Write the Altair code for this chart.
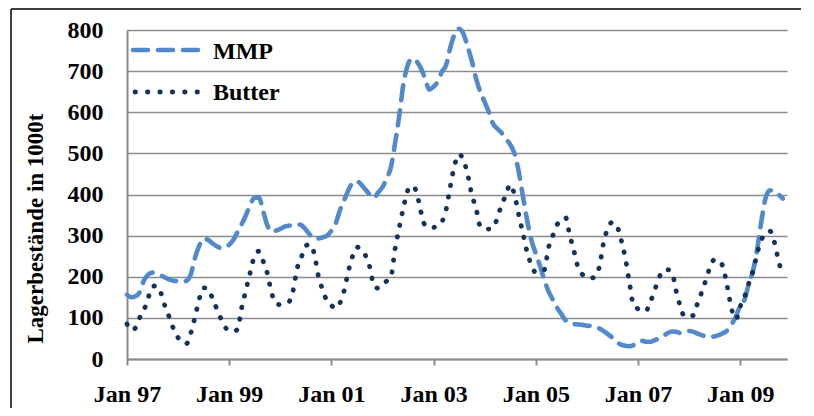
import altair as alt
import pandas as pd

# Monthly stocks (1000 t), Jan 1997 - Nov 2009
mmp = [156, 150, 152, 162, 190, 205, 210, 207, 203, 198, 193, 190,
       189, 188, 190, 205, 245, 275, 292, 290, 282, 275, 270, 272,
       278, 290, 308, 328, 350, 375, 392, 393, 360, 325, 310, 312,
       316, 322, 324, 326, 328, 325, 315, 302, 292, 293, 296, 300,
       312, 330, 360, 385, 410, 428, 432, 425, 412, 400, 392, 405,
       418, 440, 465, 525, 592, 672, 715, 730, 724, 708, 682, 655,
       662, 675, 698, 715, 758, 790, 803, 792, 760, 725, 682, 650,
       625, 600, 572, 560, 550, 535, 522, 500, 455, 395, 335, 288,
       256, 225, 194, 165, 145, 125, 110, 94, 88, 85, 84, 83,
       81, 80, 77, 74, 68, 60, 52, 42, 35, 32, 31, 34,
       42, 44, 42, 42, 46, 50, 56, 63, 67, 66, 63, 66,
       68, 66, 62, 58, 55, 54, 55, 58, 63, 70, 85, 103,
       130, 145, 180, 213, 265, 335, 392, 410, 408, 400, 390]

butter = [85, 70, 75, 100, 118, 148, 176, 178, 160, 127, 100, 72,
          52, 40, 37, 62, 101, 145, 173, 172, 150, 125, 100, 78,
          70, 67, 72, 125, 168, 211, 250, 262, 238, 208, 160, 135,
          132, 135, 138, 165, 220, 248, 275, 279, 255, 200, 167, 140,
          130, 123, 135, 165, 212, 250, 272, 268, 252, 225, 178, 172,
          180, 190, 198, 268, 320, 370, 410, 421, 406, 360, 325, 320,
          320, 325, 333, 364, 420, 472, 498, 485, 450, 400, 366, 322,
          316, 316, 319, 343, 375, 398, 424, 400, 350, 305, 258, 228,
          210, 213, 216, 270, 299, 326, 338, 344, 300, 262, 220, 205,
          197, 197, 200, 226, 285, 318, 333, 325, 292, 248, 185, 130,
          122, 115, 118, 140, 168, 198, 216, 217, 210, 165, 126, 103,
          104, 106, 135, 163, 193, 225, 242, 240, 222, 175, 120, 97,
          128, 152, 182, 213, 255, 290, 305, 311, 285, 240, 201]

series_names = ["MMP", "Butter"]
y_ticks = [0, 100, 200, 300, 400, 500, 600, 700, 800]
x_tick_years = [1997, 1999, 2001, 2003, 2005, 2007, 2009]

BLUE = "#5289CB"
NAVY = "#13335A"
FONT = "Liberation Serif"

dates = pd.date_range("1997-01-01", periods=len(mmp), freq="MS").strftime("%Y-%m-%d").tolist()
df_mmp = pd.DataFrame({"date": dates[:len(mmp)], "value": mmp})
df_butter = pd.DataFrame({"date": dates[:len(butter)], "value": butter})

x_enc = alt.X(
    "date:T",
    scale=alt.Scale(
        type="utc",
        domain=[alt.DateTime(year=1997, month=1, date=1, utc=True),
                alt.DateTime(year=2009, month=12, date=1, utc=True)],
    ),
    axis=alt.Axis(
        values=[alt.DateTime(year=y, month=1, date=1, utc=True) for y in x_tick_years],
        format="%b %y",
        title=None,
        grid=False,
        ticks=True,
        tickSize=6,
        tickColor="#8a8a8a",
        tickWidth=2,
        labelPadding=17,
        labelAngle=0,
        labelFlush=False,
        labelOverlap=False,
        labelBound=False,
    ),
)
y_enc = alt.Y(
    "value:Q",
    scale=alt.Scale(domain=[0, 800], nice=False, zero=True),
    axis=alt.Axis(
        values=y_ticks,
        title="Lagerbestände in 1000t",
        titleFont=FONT,
        titleFontSize=23,
        titleFontWeight="bold",
        titleColor="black",
        titleAngle=270,
        titleX=-80,
        titleY=198,
        titleAlign="center",
        titleBaseline="bottom",
        grid=True,
        ticks=False,
        labelPadding=24,
        labelFlush=False,
    ),
)

mmp_line = alt.Chart(df_mmp).mark_line(
    color=BLUE, strokeWidth=4.6, strokeDash=[15, 10], strokeCap="round",
    interpolate="monotone",
).encode(x=x_enc, y=y_enc)

butter_line = alt.Chart(df_butter).mark_line(
    color=NAVY, strokeWidth=4.8, strokeDash=[0.5, 11.3], strokeCap="round",
    interpolate="monotone",
).encode(x="date:T", y="value:Q")

one = pd.DataFrame({"k": [0]})

leg_mmp = alt.Chart(one).mark_rule(
    color=BLUE, strokeWidth=4.6, strokeDash=[15, 10], strokeCap="round"
).encode(x=alt.value(6), x2=alt.value(72), y=alt.value(20))
leg_butter = alt.Chart(one).mark_rule(
    color=NAVY, strokeWidth=4.8, strokeDash=[0.5, 11.9], strokeCap="round"
).encode(x=alt.value(8), x2=alt.value(71), y=alt.value(62))
leg_txt1 = alt.Chart(one).mark_text(
    align="left", baseline="alphabetic", font=FONT, fontSize=24, fontWeight="bold", color="black"
).encode(x=alt.value(86), y=alt.value(29), text=alt.value(series_names[0]))
leg_txt2 = alt.Chart(one).mark_text(
    align="left", baseline="alphabetic", font=FONT, fontSize=24, fontWeight="bold", color="black"
).encode(x=alt.value(86), y=alt.value(70), text=alt.value(series_names[1]))

frame_top = alt.Chart(one).mark_rule(color="black", strokeWidth=1.5).encode(
    x=alt.value(-116), x2=alt.value(900), y=alt.value(-21))
frame_left = alt.Chart(one).mark_rule(color="black", strokeWidth=1.5).encode(
    x=alt.value(-116), y=alt.value(-21), y2=alt.value(600))

chart = alt.layer(
    mmp_line, butter_line, leg_mmp, leg_butter, leg_txt1, leg_txt2, frame_top, frame_left
).properties(
    width=660,
    height=329,
    autosize="none",
    padding={"left": 119, "top": 22, "right": 14, "bottom": 49},
).configure_view(
    stroke="transparent"
).configure_axis(
    labelFont=FONT,
    labelFontSize=24,
    labelFontWeight="bold",
    labelColor="black",
    domainColor="#8a8a8a",
    domainWidth=2,
    gridColor="#8c8c8c",
    gridWidth=1.5,
)

chart.save("out.html", embed_options={"renderer": "svg", "actions": False})
